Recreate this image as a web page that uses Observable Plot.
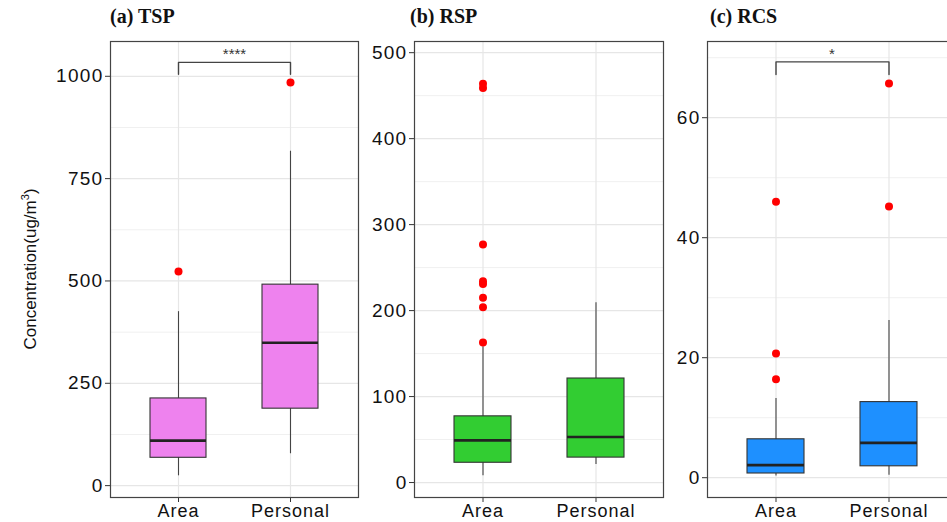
<!DOCTYPE html>
<html>
<head>
<meta charset="utf-8">
<script src="https://cdn.jsdelivr.net/npm/d3@7"></script>
<script src="https://cdn.jsdelivr.net/npm/@observablehq/plot@0.6"></script>
<style>
  html, body { margin: 0; padding: 0; background: #fff; overflow: hidden; }
  #wrap { position: relative; width: 947px; height: 522px; overflow: hidden; background: #fff; }
  .panel { position: absolute; top: 0; }
  .panel svg { max-width: none !important; }
  .panel svg [aria-label="y-axis tick label"] text { letter-spacing: 1.3px; }
  .panel svg [aria-label="x-axis tick label"] text { letter-spacing: 1px; }
  .title { position: absolute; top: 5px; font-family: "Liberation Serif", "Times New Roman", serif; font-weight: bold; font-size: 20px; color: #111; white-space: nowrap; }
  #ylab { position: absolute; left: 30px; top: 269px; transform: translate(-50%, -50%) rotate(-90deg); font-family: "Liberation Sans", Arial, sans-serif; font-size: 17px; color: #111; white-space: nowrap; }
  #ylab sup { font-size: 11px; }
</style>
</head>
<body>
<div id="wrap">
  <div class="title" style="left:110px">(a) TSP</div>
  <div class="title" style="left:410px">(b) RSP</div>
  <div class="title" style="left:710px">(c) RCS</div>
  <div id="ylab">Concentration(ug/m<sup>3</sup>)</div>
</div>
<script>
// ---- data ----
const categories = ["Area", "Personal"];

// TSP
const tspLow = [24, 78];
const tspQ1 = [68, 188];
const tspMedian = [110, 349];
const tspQ3 = [213, 491];
const tspHigh = [425, 817];
const tspOutlierGroup = ["Area", "Personal"];
const tspOutlierValue = [523, 985];
const tspTicks = [0, 250, 500, 750, 1000];
const tspMinor = [125, 375, 625, 875];
const tspDomain = [-29, 1085];
const tspBracket = [1005, 1034];
const tspSig = "****";

// RSP
const rspLow = [8, 21];
const rspQ1 = [23, 29];
const rspMedian = [49, 53];
const rspQ3 = [77, 121];
const rspHigh = [158, 209];
const rspOutlierGroup = ["Area", "Area", "Area", "Area", "Area", "Area", "Area", "Area"];
const rspOutlierValue = [163, 204, 215, 231, 234, 277, 459, 464];
const rspTicks = [0, 100, 200, 300, 400, 500];
const rspMinor = [50, 150, 250, 350, 450];
const rspDomain = [-17.4, 513];

// RCS
const rcsLow = [0.3, 0.4];
const rcsQ1 = [0.7, 1.9];
const rcsMedian = [2.1, 5.8];
const rcsQ3 = [6.4, 12.6];
const rcsHigh = [13.2, 26.2];
const rcsOutlierGroup = ["Area", "Area", "Area", "Personal", "Personal"];
const rcsOutlierValue = [16.4, 20.7, 46, 45.2, 65.7];
const rcsTicks = [0, 20, 40, 60];
const rcsMinor = [10, 30, 50, 70];
const rcsDomain = [-3.3, 72.7];
const rcsBracket = [67.2, 69.3];
const rcsSig = "*";

const colors = { tsp: "#EE82EE", rsp: "#32CD32", rcs: "#1E90FF" };

function makePanel(cfg) {
  const boxes = categories.map((c, i) => ({
    cat: c, low: cfg.low[i], q1: cfg.q1[i], med: cfg.med[i], q3: cfg.q3[i], high: cfg.high[i]
  }));
  const outliers = cfg.outGroup.map((g, i) => ({ cat: g, v: cfg.outVal[i] }));
  const marks = [
    Plot.gridY(cfg.minor, { stroke: "#f0f0f0", strokeOpacity: 1, strokeWidth: 1 }),
    Plot.gridY(cfg.ticks, { stroke: "#e6e6e6", strokeOpacity: 1, strokeWidth: 1.2 }),
    Plot.gridX(categories, { stroke: "#e6e6e6", strokeOpacity: 1, strokeWidth: 1.2 }),
    Plot.ruleX(boxes, { x: "cat", y1: "low", y2: "high", stroke: "#444", strokeWidth: 1.1 }),
    Plot.barY(boxes, { x: "cat", y1: "q1", y2: "q3", fill: cfg.color, stroke: "#333", strokeWidth: 1.1 }),
    Plot.tickY(boxes, { x: "cat", y: "med", stroke: "#222", strokeWidth: 2.6 }),
    Plot.dot(outliers, { x: "cat", y: "v", r: 4, fill: "#ff0000", stroke: "none" }),
    Plot.axisY(cfg.ticks, { tickSize: 5, tickPadding: 2, fontSize: 19, stroke: "#333", fill: "#111", label: null, tickFormat: d => String(d) }),
    Plot.axisX(categories, { tickSize: 5, tickPadding: 2, fontSize: 18, stroke: "#333", fill: "#111", label: null })
  ];
  if (cfg.bracket) {
    const br = [
      { cat: categories[0], v: cfg.bracket[0] },
      { cat: categories[0], v: cfg.bracket[1] },
      { cat: categories[1], v: cfg.bracket[1] },
      { cat: categories[1], v: cfg.bracket[0] }
    ];
    marks.push(Plot.line(br, { x: "cat", y: "v", stroke: "#444", strokeWidth: 1.4 }));
    marks.push(Plot.text([cfg.sig], { text: d => d, frameAnchor: "top", lineAnchor: "bottom", dy: 17, fontSize: 15, fill: "#333" }));
  }
  marks.push(Plot.frame({ stroke: "#444", strokeWidth: 1.2 }));
  return Plot.plot({
    width: cfg.width,
    height: 522,
    marginLeft: cfg.marginLeft,
    marginRight: 2,
    marginTop: 41,
    marginBottom: 25,
    style: { fontFamily: "Liberation Sans, Arial, sans-serif", background: "transparent", overflow: "visible", maxWidth: "none" },
    x: { type: "band", domain: categories, paddingInner: 0.5, paddingOuter: 0.35, align: 0.5 },
    y: { domain: cfg.domain },
    marks
  });
}

const wrap = document.getElementById("wrap");
const panels = [
  { left: 0, width: 360, marginLeft: 110, low: tspLow, q1: tspQ1, med: tspMedian, q3: tspQ3, high: tspHigh,
    outGroup: tspOutlierGroup, outVal: tspOutlierValue, ticks: tspTicks, minor: tspMinor, domain: tspDomain,
    color: colors.tsp, bracket: tspBracket, sig: tspSig },
  { left: 362, width: 303, marginLeft: 52, low: rspLow, q1: rspQ1, med: rspMedian, q3: rspQ3, high: rspHigh,
    outGroup: rspOutlierGroup, outVal: rspOutlierValue, ticks: rspTicks, minor: rspMinor, domain: rspDomain,
    color: colors.rsp },
  { left: 665, width: 293, marginLeft: 42, low: rcsLow, q1: rcsQ1, med: rcsMedian, q3: rcsQ3, high: rcsHigh,
    outGroup: rcsOutlierGroup, outVal: rcsOutlierValue, ticks: rcsTicks, minor: rcsMinor, domain: rcsDomain,
    color: colors.rcs, bracket: rcsBracket, sig: rcsSig }
];
panels.forEach(cfg => {
  const svg = makePanel(cfg);
  const div = document.createElement("div");
  div.className = "panel";
  div.style.left = cfg.left + "px";
  div.style.width = cfg.width + "px";
  div.style.height = "522px";
  div.appendChild(svg);
  wrap.insertBefore(div, wrap.firstChild);
});
</script>
</body>
</html>
